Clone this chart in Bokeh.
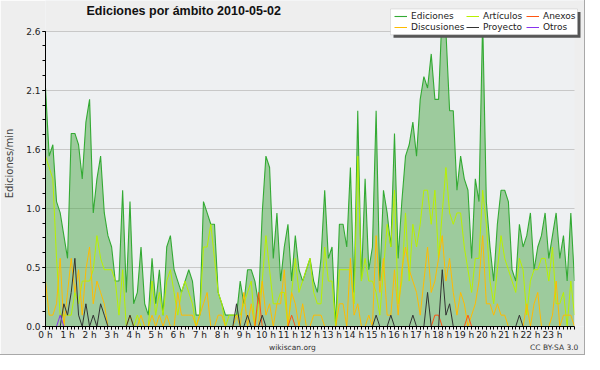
from bokeh.plotting import figure
from bokeh.models import (FixedTicker, Legend, LegendItem, Label, Range1d,
                          LinearAxis, BoxAnnotation)
from bokeh.embed import file_html
from bokeh.resources import INLINE

title_text = "Ediciones por ámbito  2010-05-02"
source_text = "wikiscan.org"
license_text = "CC BY-SA 3.0"
y_label = "Ediciones/min"

hour_ticks = list(range(24))
hour_labels = [f"{h} h" for h in hour_ticks]
y_tick_values = [0.0, 0.52, 1.04, 1.56, 2.08, 2.6]
y_tick_labels = ["0.0", "0.5", "1.0", "1.6", "2.1", "2.6"]

# 10-minute bins, minutes since 00:00
minutes = list(range(0, 1441, 10))

ediciones = [
    2.1, 1.5, 1.6, 1.1, 1.0, 0.8, 0.6, 1.7, 1.7, 1.6,
    1.3, 1.8, 2.0, 1.0, 1.3, 1.5, 1.0, 0.8, 0.7, 0.4,
    0.4, 1.2, 0.3, 1.1, 0.2, 0.3, 0.7, 0.2, 0.1, 0.6,
    0.2, 0.5, 0.1, 0.7, 0.8, 0.5, 0.4, 0.3, 0.4, 0.5,
    0.4, 0.1, 0.1, 1.1, 1.0, 0.9, 0.9, 0.3, 0.2, 0.1,
    0.1, 0.1, 0.1, 0.4, 0.2, 0.5, 0.5, 0.4, 0.2, 1.0,
    1.5, 1.4, 0.6, 1.0, 0.4, 0.7, 0.9, 0.4, 0.8, 0.5,
    0.4, 0.5, 0.6, 0.4, 0.3, 0.6, 1.2, 0.6, 0.7, 0.0,
    0.9, 0.9, 0.7, 1.4, 0.3, 1.9, 0.4, 1.3, 0.5, 0.7,
    1.9, 0.4, 1.2, 1.0, 0.7, 1.7, 0.6, 1.1, 1.5, 1.6,
    1.8, 1.5, 2.0, 2.2, 2.1, 2.4, 2.0, 2.0, 2.8, 2.6,
    1.9, 1.9, 1.2, 1.5, 1.3, 1.2, 0.6, 1.3, 1.1, 2.7,
    1.1, 0.7, 0.4, 0.9, 1.2, 1.2, 1.1, 0.5, 0.4, 0.9,
    0.7, 0.8, 1.0, 0.5, 0.7, 0.8, 1.0, 0.6, 0.8, 1.0,
    0.6, 0.8, 0.4, 1.0, 0.4,
]
articulos = [
    1.5, 1.4, 1.3, 0.6, 0.1, 0.1, 0.1, 0.1, 0.3, 0.2,
    0.4, 0.4, 0.4, 0.5, 0.8, 0.6, 0.5, 0.5, 0.5, 0.4,
    0.1, 0.5, 0.0, 0.0, 0.0, 0.1, 0.0, 0.0, 0.0, 0.4,
    0.1, 0.3, 0.1, 0.4, 0.5, 0.3, 0.1, 0.3, 0.4, 0.3,
    0.2, 0.0, 0.1, 0.7, 0.7, 0.9, 0.6, 0.3, 0.2, 0.0,
    0.1, 0.1, 0.1, 0.1, 0.2, 0.3, 0.4, 0.0, 0.2, 0.4,
    0.8, 0.5, 0.2, 0.2, 0.3, 0.3, 0.0, 0.3, 0.6, 0.3,
    0.4, 0.5, 0.6, 0.3, 0.2, 0.2, 0.7, 0.4, 0.4, 0.0,
    0.5, 0.5, 0.5, 0.5, 0.2, 1.5, 0.4, 0.6, 0.4, 0.4,
    0.3, 0.1, 0.5, 0.9, 0.7, 1.2, 0.2, 0.4, 1.0, 0.4,
    0.9, 0.7, 0.9, 1.2, 1.2, 0.9, 1.2, 0.6, 1.0, 1.4,
    1.0, 0.9, 1.0, 1.0, 0.7, 0.5, 0.3, 0.6, 0.6, 1.2,
    0.9, 0.4, 0.2, 0.5, 0.8, 0.6, 0.5, 0.4, 0.3, 0.6,
    0.5, 0.1, 0.4, 0.5, 0.5, 0.6, 0.6, 0.4, 0.7, 0.2,
    0.2, 0.3, 0.0, 0.4, 0.1,
]
discusiones = [
    0.4, 0.1, 0.1, 0.2, 0.6, 0.0, 0.3, 0.6, 0.3, 0.5,
    0.1, 0.5, 0.7, 0.2, 0.4, 0.3, 0.2, 0.0, 0.0, 0.0,
    0.0, 0.0, 0.0, 0.1, 0.0, 0.0, 0.1, 0.0, 0.0, 0.1,
    0.0, 0.1, 0.0, 0.1, 0.0, 0.0, 0.3, 0.1, 0.1, 0.1,
    0.1, 0.0, 0.1, 0.2, 0.3, 0.0, 0.0, 0.1, 0.1, 0.0,
    0.0, 0.0, 0.1, 0.0, 0.3, 0.0, 0.2, 0.0, 0.0, 0.4,
    0.1, 0.2, 0.0, 0.2, 0.2, 0.5, 0.0, 0.3, 0.2, 0.0,
    0.2, 0.0, 0.0, 0.1, 0.1, 0.1, 0.0, 0.0, 0.0, 0.0,
    0.2, 0.2, 0.0, 0.6, 0.1, 0.2, 0.0, 0.0, 0.1, 0.0,
    0.8, 0.3, 0.6, 0.1, 0.1, 0.5, 0.1, 0.5, 0.7, 0.5,
    0.4, 0.3, 0.1, 0.4, 0.7, 0.3, 0.4, 0.6, 0.8, 0.4,
    0.6, 0.3, 0.1, 0.3, 0.2, 0.0, 0.1, 0.2, 0.4, 0.8,
    0.2, 0.2, 0.1, 0.2, 0.1, 0.1, 0.0, 0.0, 0.0, 0.0,
    0.0, 0.2, 0.0, 0.2, 0.3, 0.0, 0.0, 0.0, 0.1, 0.4,
    0.0, 0.1, 0.1, 0.1, 0.0,
]
anexos = [
    0.0, 0.0, 0.0, 0.0, 0.0, 0.0, 0.0, 0.0, 0.0, 0.0,
    0.0, 0.0, 0.0, 0.0, 0.0, 0.0, 0.0, 0.0, 0.0, 0.0,
    0.0, 0.0, 0.0, 0.0, 0.0, 0.0, 0.0, 0.0, 0.0, 0.0,
    0.0, 0.0, 0.0, 0.0, 0.0, 0.0, 0.0, 0.0, 0.0, 0.0,
    0.0, 0.0, 0.0, 0.0, 0.0, 0.0, 0.0, 0.0, 0.0, 0.0,
    0.0, 0.0, 0.0, 0.0, 0.0, 0.0, 0.0, 0.0, 0.3, 0.0,
    0.0, 0.0, 0.0, 0.0, 0.0, 0.0, 0.0, 0.1, 0.0, 0.0,
    0.0, 0.0, 0.0, 0.0, 0.0, 0.0, 0.0, 0.0, 0.0, 0.0,
    0.0, 0.0, 0.0, 0.0, 0.0, 0.0, 0.0, 0.0, 0.0, 0.0,
    0.0, 0.0, 0.0, 0.0, 0.0, 0.0, 0.0, 0.0, 0.0, 0.0,
    0.0, 0.0, 0.0, 0.0, 0.0, 0.0, 0.1, 0.1, 0.0, 0.0,
    0.0, 0.0, 0.0, 0.0, 0.0, 0.1, 0.0, 0.0, 0.0, 0.0,
    0.0, 0.0, 0.0, 0.0, 0.0, 0.0, 0.0, 0.0, 0.0, 0.0,
    0.0, 0.0, 0.0, 0.0, 0.0, 0.0, 0.0, 0.0, 0.0, 0.0,
    0.0, 0.0, 0.0, 0.0, 0.0,
]
proyecto = [
    0.0, 0.0, 0.0, 0.0, 0.0, 0.2, 0.1, 0.3, 0.6, 0.1,
    0.0, 0.2, 0.0, 0.1, 0.0, 0.2, 0.1, 0.0, 0.0, 0.0,
    0.0, 0.0, 0.0, 0.1, 0.0, 0.0, 0.0, 0.0, 0.0, 0.0,
    0.0, 0.0, 0.0, 0.0, 0.0, 0.0, 0.0, 0.0, 0.0, 0.0,
    0.0, 0.0, 0.0, 0.0, 0.0, 0.0, 0.0, 0.0, 0.0, 0.0,
    0.0, 0.0, 0.2, 0.0, 0.0, 0.1, 0.0, 0.0, 0.0, 0.1,
    0.0, 0.0, 0.0, 0.0, 0.0, 0.0, 0.0, 0.0, 0.0, 0.0,
    0.0, 0.0, 0.0, 0.0, 0.0, 0.0, 0.0, 0.0, 0.0, 0.0,
    0.0, 0.0, 0.0, 0.0, 0.0, 0.0, 0.0, 0.0, 0.0, 0.0,
    0.1, 0.0, 0.0, 0.0, 0.1, 0.0, 0.0, 0.0, 0.0, 0.0,
    0.1, 0.0, 0.0, 0.0, 0.3, 0.0, 0.0, 0.0, 0.5, 0.1,
    0.2, 0.0, 0.0, 0.0, 0.0, 0.0, 0.0, 0.0, 0.0, 0.0,
    0.0, 0.0, 0.0, 0.0, 0.0, 0.0, 0.0, 0.0, 0.0, 0.1,
    0.0, 0.0, 0.0, 0.0, 0.0, 0.0, 0.0, 0.0, 0.0, 0.0,
    0.0, 0.0, 0.0, 0.0, 0.0,
]
otros = [
    0.0, 0.0, 0.0, 0.0, 0.1, 0.0, 0.0, 0.0, 0.0, 0.0,
] + [0.0] * 135

x = [m / 60 for m in minutes]

# ---- layout constants (pixels) ----
W, H = 584, 354
LEFT, BOTTOM = 45, 25
PLOT_TOP = 31          # canvas y of the 2.6 line
PLOT_RIGHT = 574       # canvas x of 24 h
BORDER_BG = "#eeeeee"

frame_h = H - BOTTOM
frame_w = W - LEFT
px_per_unit = (frame_h - PLOT_TOP) / 2.6
px_per_hour = (PLOT_RIGHT - LEFT) / 24
y_end = frame_h / px_per_unit
x_end = frame_w / px_per_hour

p = figure(width=W, height=H, output_backend="svg", toolbar_location=None,
           title=None,
           x_range=Range1d(0, x_end), y_range=Range1d(0, y_end),
           min_border_left=LEFT, min_border_right=0, min_border_top=0,
           min_border_bottom=BOTTOM,
           styles={"outline": "1px solid #a8a8a8"})
p.background_fill_color = "#eef0f2"
p.border_fill_color = BORDER_BG
p.outline_line_color = None

p.xgrid.grid_line_color = None
p.ygrid.grid_line_color = "#c8c8c8"
p.ygrid.ticker = FixedTicker(ticks=y_tick_values)
p.ygrid.bounds = (0, 24)

p.xaxis.ticker = FixedTicker(ticks=hour_ticks, minor_ticks=[m / 60 for m in minutes])
p.xaxis.major_label_overrides = {h: lab for h, lab in zip(hour_ticks, hour_labels)}
p.xaxis.bounds = (0, 24)
p.yaxis.ticker = FixedTicker(ticks=y_tick_values,
                             minor_ticks=[i * 0.13 for i in range(21)])
p.yaxis.major_label_overrides = {v: lab for v, lab in zip(y_tick_values, y_tick_labels)}
p.yaxis.bounds = (0, 2.6)

for ax in (p.xaxis[0], p.yaxis[0]):
    ax.axis_line_color = "black"
    ax.major_tick_line_color = "black"
    ax.minor_tick_line_color = "black"
    ax.major_tick_in = 0
    ax.major_tick_out = 3
    ax.minor_tick_in = 0
    ax.minor_tick_out = 3
    ax.major_label_text_font = "DejaVu Sans"
    ax.major_label_text_font_size = "9px"
    ax.major_label_text_color = "#222222"
    ax.axis_label_text_font = "DejaVu Sans"
    ax.axis_label_text_font_style = "normal"

p.xaxis.major_label_standoff = 0
p.yaxis.major_label_standoff = 2
p.yaxis.axis_label = y_label
p.yaxis.axis_label_text_font_size = "10px"
p.yaxis.axis_label_standoff = 8

# footer line: source (centred) and licence (right), as labels of a bare axis
footer_ticks = [11.2, 23.08]
footer_axis = LinearAxis(ticker=FixedTicker(ticks=footer_ticks),
                         major_label_overrides={footer_ticks[0]: source_text,
                                                footer_ticks[1]: license_text})
footer_axis.axis_line_color = None
footer_axis.major_tick_line_color = None
footer_axis.minor_tick_line_color = None
footer_axis.major_tick_in = 0
footer_axis.major_tick_out = 0
footer_axis.minor_tick_in = 0
footer_axis.minor_tick_out = 0
footer_axis.major_label_standoff = 0
footer_axis.major_label_text_font = "DejaVu Sans"
footer_axis.major_label_text_font_size = "7.5px"
footer_axis.major_label_text_color = "#333333"
p.add_layout(footer_axis, "below")

p.varea(x=x, y1=0, y2=ediciones, fill_color="#4ca648", fill_alpha=0.5)
r_ed = p.line(x, ediciones, line_color="#33aa33", line_width=1.1)
r_art = p.line(x, articulos, line_color="#b8f000", line_width=1.0)
r_dis = p.line(x, discusiones, line_color="#ffbb00", line_width=1.0)
r_anx = p.line(x, anexos, line_color="#ff5511", line_width=1.0)
r_pro = p.line(x, proyecto, line_color="#333333", line_width=1.0)
r_otr = p.line(x, otros, line_color="#8833ee", line_width=1.0)

# mask everything above 2.6 and right of 24 h with the page colour
p.add_layout(BoxAnnotation(bottom=2.603, fill_color=BORDER_BG, fill_alpha=1.0,
                           line_color=None))
p.add_layout(BoxAnnotation(left=24.0, fill_color=BORDER_BG, fill_alpha=1.0,
                           line_color=None))

# legend box with drop shadow (screen units, from frame bottom-left)
def fy(canvas_y):
    return frame_h - canvas_y

def fx(canvas_x):
    return canvas_x - LEFT

p.add_layout(BoxAnnotation(left=fx(393), right=fx(580), top=fy(14.5), bottom=fy(40.3),
                           left_units="screen", right_units="screen",
                           top_units="screen", bottom_units="screen",
                           fill_color="#555555", fill_alpha=1.0, line_color=None))
p.add_layout(BoxAnnotation(left=fx(390), right=fx(577), top=fy(11.5), bottom=fy(37.3),
                           left_units="screen", right_units="screen",
                           top_units="screen", bottom_units="screen",
                           fill_color="white", fill_alpha=1.0,
                           line_color="#aaaaaa", line_width=1))

columns = [
    (394, [("Ediciones", r_ed), ("Discusiones", r_dis)]),
    (466, [("Artículos", r_art), ("Proyecto", r_pro)]),
    (526, [("Anexos", r_anx), ("Otros", r_otr)]),
]
for cx, entries in columns:
    lg = Legend(items=[LegendItem(label=lab, renderers=[r]) for lab, r in entries],
                location=(fx(cx), fy(34.5)), orientation="vertical")
    lg.label_text_font = "DejaVu Sans"
    lg.label_text_font_size = "9px"
    lg.label_text_color = "#222222"
    lg.glyph_width = 13
    lg.glyph_height = 10
    lg.label_height = 10
    lg.label_standoff = 4
    lg.spacing = 1
    lg.padding = 0
    lg.margin = 0
    lg.border_line_color = None
    lg.background_fill_alpha = 0.0
    p.add_layout(lg)

p.add_layout(Label(x=fx(86), y=fy(13.5), x_units="screen", y_units="screen",
                   text=title_text, text_baseline="middle",
                   text_font="Liberation Sans", text_font_size="12.5px",
                   text_font_style="bold", text_color="#111111"))

open("out.html", "w").write(file_html(p, INLINE))
